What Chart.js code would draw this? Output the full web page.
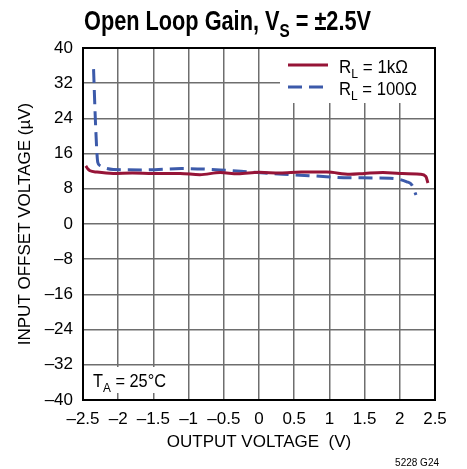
<!DOCTYPE html>
<html>
<head>
<meta charset="utf-8">
<script src="https://cdn.jsdelivr.net/npm/chart.js@4/dist/chart.umd.min.js"></script>
<style>
  html, body { margin: 0; padding: 0; background: #fff; }
  #wrap { position: relative; width: 467px; height: 469px; }
</style>
</head>
<body>
<div id="wrap"><canvas id="gainChart" width="467" height="469"></canvas></div>
<script>
// data
const rl1kX = [-2.46, -2.43, -2.40, -2.30, -2.07, -1.80, -1.50, -1.12, -0.84, -0.55, -0.30, 0.00, 0.30, 0.60, 0.96, 1.29, 1.50, 1.76, 2.00, 2.29, 2.37, 2.40];
const rl1kY = [13.2, 12.5, 12.1, 11.8, 11.5, 11.6, 11.5, 11.5, 11.2, 11.7, 11.4, 11.75, 11.6, 11.8, 11.8, 11.3, 11.5, 11.7, 11.5, 11.3, 10.8, 9.3];
const rl100X = [-2.35, -2.32, -2.29, -2.26, -2.20, -2.07, -1.60, -1.10, -0.55, -0.08, 0.34, 0.80, 1.29, 1.86, 2.10, 2.17, 2.23];
const rl100Y = [35.2, 22.0, 14.0, 13.3, 12.8, 12.4, 12.3, 12.6, 12.3, 11.75, 11.3, 10.9, 10.5, 10.4, 9.6, 8.9, 6.6];
const xTicks = [-2.5, -2, -1.5, -1, -0.5, 0, 0.5, 1, 1.5, 2, 2.5];
const yTicks = [-40, -32, -24, -16, -8, 0, 8, 16, 24, 32, 40];
const seriesLabels = ['R_L = 1kΩ', 'R_L = 100Ω'];

const FONT = '"Liberation Sans", Arial, sans-serif';
const RED = 'rgb(150, 20, 55)';
const BLUE = 'rgb(60, 90, 170)';

function toPoints(xs, ys) {
    return xs.map((x, i) => ({ x: x, y: ys[i] }));
}
function minus(v) {
    return String(v).replace('-', '\u2013');
}

// splits "A_B rest" into normal / subscript / normal
function parts(text) {
    const m = text.match(/^(.*?)_(\S)(.*)$/);
    return m ? [[m[1], 0], [m[2], 1], [m[3], 0]] : [[text, 0]];
}
function fontFor(size, sub, bold) {
    return (bold ? 'bold ' : '') + (sub ? Math.round(size * 0.72) : size) + 'px ' + FONT;
}
function subWidth(ctx, text, size, bold) {
    let w = 0;
    parts(text).forEach(([s, sub]) => {
        ctx.font = fontFor(size, sub, bold);
        w += ctx.measureText(s).width;
    });
    return w;
}
// draws text with subscript, squeezed to width (if given)
function drawSub(ctx, text, x, y, size, bold, width) {
    const natural = subWidth(ctx, text, size, bold);
    const sx = width ? width / natural : 1;
    ctx.save();
    ctx.translate(x, y);
    ctx.scale(sx, 1);
    ctx.textBaseline = 'alphabetic';
    ctx.textAlign = 'left';
    let cx = 0;
    parts(text).forEach(([s, sub]) => {
        ctx.font = fontFor(size, sub, bold);
        ctx.fillText(s, cx, sub ? size * 0.25 : 0);
        cx += ctx.measureText(s).width;
    });
    ctx.restore();
}

const annotations = {
    id: 'annotations',
    afterDatasetsDraw(chart) {
        const ctx = chart.ctx;
        const area = chart.chartArea;
        ctx.save();
        ctx.fillStyle = '#000';

        // title
        drawSub(ctx, 'Open Loop Gain, V_S = \u00b12.5V', 84, 30, 27, true, 287);

        // legend box
        ctx.fillStyle = '#fff';
        ctx.fillRect(280, area.top + 1, area.right - 281, 54);
        chart.data.datasets.forEach((ds, i) => {
            const y = 65 + i * 22;
            ctx.strokeStyle = ds.borderColor;
            ctx.lineWidth = 3;
            ctx.setLineDash(ds.borderDash || []);
            ctx.beginPath();
            ctx.moveTo(288, y);
            ctx.lineTo(328, y);
            ctx.stroke();
            ctx.setLineDash([]);
            ctx.fillStyle = '#000';
            drawSub(ctx, ds.label, 339, y + 8, 18, false, i === 0 ? 69 : 78);
        });

        // temperature note
        ctx.fillStyle = '#fff';
        ctx.fillRect(area.left + 1, 367, 98, 26);
        ctx.fillStyle = '#000';
        drawSub(ctx, 'T_A = 25\u00b0C', 93, 387, 18, false, 73);

        // part code
        ctx.font = '10px ' + FONT;
        ctx.textAlign = 'right';
        ctx.fillText('5228 G24', 439, 466);

        // border
        ctx.strokeStyle = '#000';
        ctx.lineWidth = 2;
        ctx.strokeRect(area.left, area.top, area.right - area.left, area.bottom - area.top);
        ctx.restore();
    }
};

new Chart(document.getElementById('gainChart'), {
    type: 'line',
    data: {
        datasets: [{
            label: seriesLabels[0],
            data: toPoints(rl1kX, rl1kY),
            borderColor: RED,
            borderWidth: 3,
            pointRadius: 0,
            cubicInterpolationMode: 'monotone'
        }, {
            label: seriesLabels[1],
            data: toPoints(rl100X, rl100Y),
            borderColor: BLUE,
            borderWidth: 3,
            borderDash: [14, 7],
            pointRadius: 0,
            cubicInterpolationMode: 'monotone'
        }]
    },
    options: {
        responsive: false,
        animation: false,
        layout: { padding: { top: 48, right: 32, left: 0, bottom: 0 } },
        scales: {
            x: {
                type: 'linear',
                min: -2.5,
                max: 2.5,
                afterFit: (s) => { s.height = 69; },
                afterBuildTicks: (s) => { s.ticks = xTicks.map(v => ({ value: v })); },
                grid: { color: '#6e6e6e', lineWidth: 1.5, drawTicks: false },
                border: { display: false },
                ticks: {
                    color: '#000',
                    padding: 9,
                    maxRotation: 0,
                    autoSkip: false,
                    font: { family: FONT, size: 17 },
                    callback: (v) => minus(v)
                },
                title: {
                    display: true,
                    text: 'OUTPUT VOLTAGE  (V)',
                    color: '#000',
                    font: { family: FONT, size: 17 },
                    padding: { top: 4, bottom: 16 }
                }
            },
            y: {
                min: -40,
                max: 40,
                afterFit: (s) => { s.width = 83; },
                afterBuildTicks: (s) => { s.ticks = yTicks.map(v => ({ value: v })); },
                grid: { color: '#6e6e6e', lineWidth: 1.5, drawTicks: false },
                border: { display: false },
                ticks: {
                    color: '#000',
                    padding: 10,
                    autoSkip: false,
                    font: { family: FONT, size: 17 },
                    callback: (v) => minus(v)
                },
                title: {
                    display: true,
                    text: 'INPUT OFFSET VOLTAGE (\u00b5V)',
                    color: '#000',
                    font: { family: FONT, size: 17 },
                    padding: { top: 15, bottom: 0 }
                }
            }
        },
        plugins: {
            legend: { display: false },
            tooltip: { enabled: false }
        }
    },
    plugins: [annotations]
});
</script>
</body>
</html>
